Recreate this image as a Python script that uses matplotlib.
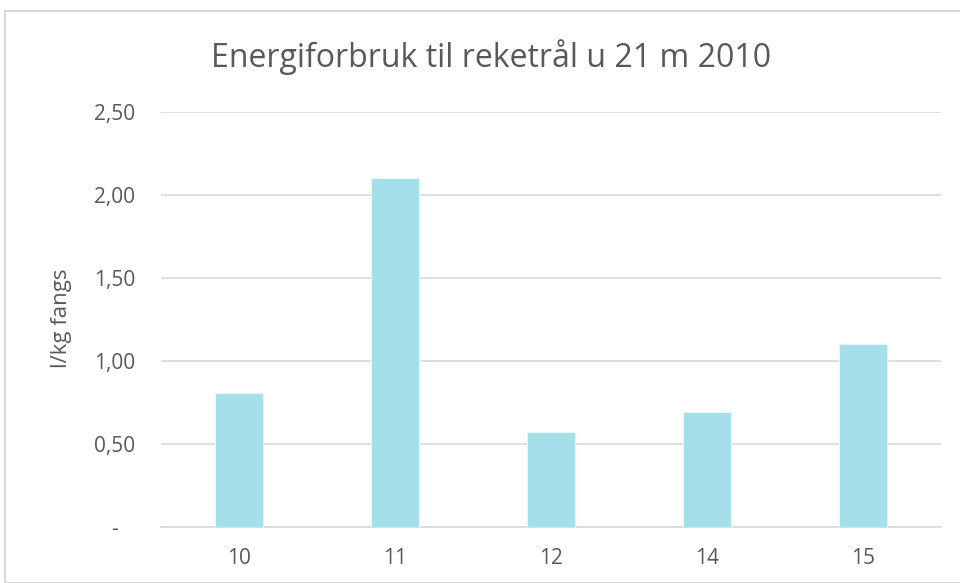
import matplotlib
matplotlib.use("Agg")
import matplotlib.pyplot as plt
from matplotlib.patches import Rectangle
from matplotlib.ticker import FixedLocator

categories = ["10", "11", "12", "14", "15"]
values = [0.81, 2.10, 0.57, 0.69, 1.10]
ytick_vals = [0, 0.5, 1.0, 1.5, 2.0, 2.5]
ytick_labels = ["-   ", "0,50", "1,00", "1,50", "2,00", "2,50"]
title = "Energiforbruk til reketrål u 21 m 2010"
ylabel = "l/kg fangs"

plt.rcParams['font.family'] = ['Open Sans', 'DejaVu Sans']

W, H = 960, 583
fig = plt.figure(figsize=(9.6, 5.83), dpi=100)
fig.patch.set_facecolor("white")

# chart border
fig.patches.append(Rectangle((5/W, 0), 1, 1 - 11/H, transform=fig.transFigure,
                             fill=False, edgecolor="#d9d9d9", linewidth=1.5))

ax = fig.add_axes([161/W, 1 - 527/H, (941 - 161)/W, (527 - 112)/H])
x = range(len(categories))
ax.bar(x, values, width=0.31, color="#a5dfe9", edgecolor="#e8f7fa", linewidth=0.8, zorder=3)
ax.set_xlim(-0.5, len(categories) - 0.5)
ax.set_ylim(0, 2.5)
ax.yaxis.set_major_locator(FixedLocator(ytick_vals))
ax.set_yticklabels(ytick_labels)
ax.set_xticks(list(x))
ax.set_xticklabels(categories)
ax.grid(axis="y", color="#d9d9d9", linewidth=1.2, zorder=0)
for s in ["top", "right", "left"]:
    ax.spines[s].set_visible(False)
ax.spines["bottom"].set_color("#d9d9d9")
ax.spines["bottom"].set_linewidth(1.2)
ax.tick_params(axis="both", length=0, labelsize=15, colors="#595959")
ax.tick_params(axis="y", pad=18.5)
ax.tick_params(axis="x", pad=15)

fig.text(491/W, 1 - 57/H, title, ha="center", va="center", fontsize=23, color="#595959")
fig.text(62/W, 1 - 318/H, ylabel, ha="center", va="center", rotation=90,
         fontsize=16, color="#595959")

fig.savefig("out.png", dpi=100)
